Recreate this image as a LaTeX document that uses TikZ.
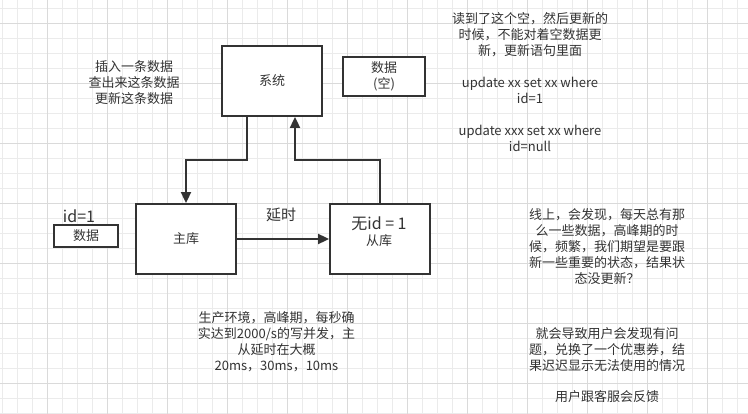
\documentclass[tikz,border=0pt]{standalone}
\usepackage{fontspec}
\setmainfont{Noto Sans CJK SC}
\usetikzlibrary{arrows.meta}
\definecolor{ink}{HTML}{333333}
\definecolor{gridminor}{HTML}{EBEBEB}
\definecolor{gridmajor}{HTML}{DADADA}
\tikzset{
  box/.style={draw=ink, line width=1.8pt, fill=white, text=ink, align=center, inner sep=0pt,
    font=\fontsize{13}{16}\selectfont},
  txt/.style={text=ink, align=center, inner sep=0pt, font=\fontsize{13}{16}\selectfont},
  big/.style={text=ink, align=center, inner sep=0pt, font=\fontsize{16}{18}\selectfont},
  conn/.style={draw=ink, line width=1.8pt, -{Triangle[length=11pt,width=10pt]}},
}
\begin{document}
\begin{tikzpicture}[x=1pt,y=-1pt]
\useasboundingbox (0,0) rectangle (748,414);
\fill[white] (0,0) rectangle (748,414);
% grid
\foreach \i in {0,...,49} {\draw[gridminor, line width=0.8pt] ({2.3+15*\i},0) -- ({2.3+15*\i},414);}
\foreach \j in {0,...,27} {\draw[gridminor, line width=0.8pt] (0,{8+15*\j}) -- (748,{8+15*\j});}
\foreach \i in {0,...,11} {\draw[gridmajor, line width=0.8pt] ({47.3+60*\i},0) -- ({47.3+60*\i},414);}
\foreach \j in {0,...,6} {\draw[gridmajor, line width=0.8pt] (0,{23+60*\j}) -- (748,{23+60*\j});}

% boxes
\node[box, minimum width=100pt, minimum height=70pt] (sys) at (272,81) {系统};
\node[box, minimum width=82pt, minimum height=39pt] (empty) at (384,76.5) {数据\\(空)};
\node[box, minimum width=100pt, minimum height=70pt] (master) at (186,239) {主库};
\node[box, minimum width=100pt, minimum height=70pt] (slave) at (380,239) {};
\node[big] (noid) at (379,224) {无id = 1};
\node[txt] (slavelbl) at (379,241) {从库};
\node[box, minimum width=64pt, minimum height=22pt] (data) at (86,236) {数据};
\node[big] (idone) at (79,216) {id=1};

% connectors
\coordinate (a1) at (247,160);
\coordinate (a2) at (186,160);
\draw[conn] (sys.south -| a1) -- (a1) -- (a2) -- (master.north);
\coordinate (b1) at (380,160);
\coordinate (b2) at (295,160);
\draw[conn] (slave.north) -- (b1) -- (b2) -- (sys.south -| b2);
\draw[conn] (master.east) -- (slave.west);
\node[txt, font=\fontsize{15}{18}\selectfont] (delay) at (281,215) {延时};

% texts
\node[txt] (ops) at (134,83) {插入一条数据\\查出来这条数据\\更新这条数据};
\node[txt] (note1) at (530,82) {读到了这个空，然后更新的\\时候，不能对着空数据更\\新，更新语句里面\\[16pt]update xx set xx where\\id=1\\[16pt]update xxx set xx where\\id=null};
\node[txt] (note2) at (276.5,342) {生产环境，高峰期，每秒确\\实达到2000/s的写并发，主\\从延时在大概\\20ms，30ms，10ms};
\node[txt] (note3) at (607,246.5) {线上，会发现，每天总有那\\么一些数据，高峰期的时\\候，频繁，我们期望是要跟\\新一些重要的状态，结果状\\态没更新？};
\node[txt] (note4) at (607,350) {就会导致用户会发现有问\\题，兑换了一个优惠券，结\\果迟迟显示无法使用的情况};
\node[txt] (note5) at (607,397) {用户跟客服会反馈};
\end{tikzpicture}
\end{document}
